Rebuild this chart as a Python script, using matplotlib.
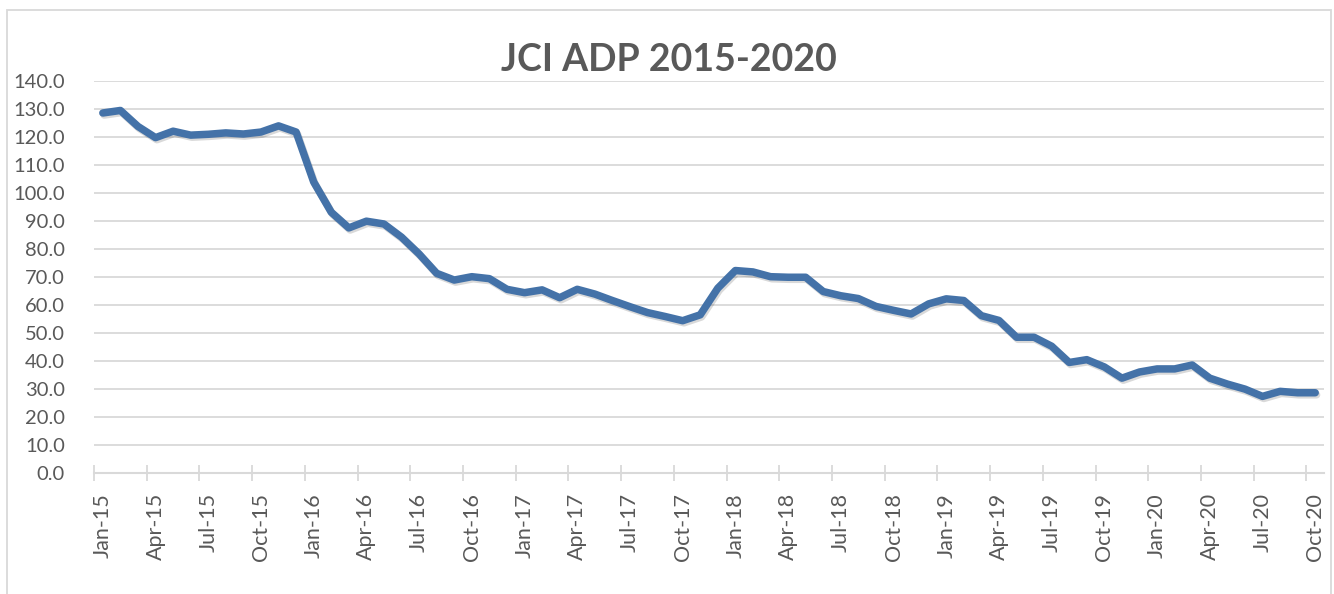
import matplotlib
matplotlib.use('Agg')
import matplotlib.pyplot as plt
import matplotlib.patheffects as pe
from matplotlib.patches import Rectangle

plt.rcParams['font.family'] = ['Lato', 'DejaVu Sans']

# JCI ADP, monthly Jan-15 .. Oct-20
adp = [128.6, 129.5, 123.8, 119.8, 122.1, 120.7, 121.0, 121.5, 121.1, 121.8, 124.0, 121.8,
       104.0, 93.2, 87.6, 90.0, 89.0, 84.3, 78.3, 71.4, 69.0, 70.2, 69.5, 65.7,
       64.5, 65.5, 62.7, 65.7, 64.0, 61.7, 59.5, 57.4, 56.0, 54.5, 56.6, 66.1,
       72.4, 71.9, 70.2, 70.0, 70.0, 64.9, 63.4, 62.4, 59.6, 58.2, 56.9, 60.5,
       62.3, 61.7, 56.3, 54.6, 48.6, 48.6, 45.4, 39.6, 40.6, 38.0, 34.0, 36.2,
       37.3, 37.3, 38.7, 34.0, 31.9, 30.1, 27.5, 29.3, 28.8, 28.8]

# one label every 3 months
tick_labels = ['Jan-15', 'Apr-15', 'Jul-15', 'Oct-15',
               'Jan-16', 'Apr-16', 'Jul-16', 'Oct-16',
               'Jan-17', 'Apr-17', 'Jul-17', 'Oct-17',
               'Jan-18', 'Apr-18', 'Jul-18', 'Oct-18',
               'Jan-19', 'Apr-19', 'Jul-19', 'Oct-19',
               'Jan-20', 'Apr-20', 'Jul-20', 'Oct-20']

grey_txt = '#595959'
grey_ln = '#d9d9d9'

fig = plt.figure(figsize=(13.34, 5.94), dpi=100)
ax = fig.add_axes([0.0705, 0.2029, 0.922, 0.6607])

x = list(range(len(adp)))
ax.plot(x, adp, color='#4472A8', lw=5.4, solid_joinstyle='round',
        solid_capstyle='round',
        path_effects=[pe.SimpleLineShadow(offset=(1, -1.5), shadow_color='k', alpha=0.15),
                      pe.Normal()])

ax.set_xlim(-0.5, len(adp) - 0.5)
ax.set_ylim(0, 140)

yt = list(range(0, 141, 10))
ax.set_yticks(yt)
ax.set_yticklabels([f'{v:.1f}' for v in yt])
ax.yaxis.grid(True, color=grey_ln, lw=1.3)
ax.set_axisbelow(True)

ax.set_xticks(x[::3])
ax.set_xticklabels(tick_labels, rotation=90)
ax.set_xticks([i - 0.5 for i in x[::3]], minor=True)

for s in ['top', 'right', 'left']:
    ax.spines[s].set_visible(False)
ax.spines['bottom'].set_color(grey_ln)
ax.spines['bottom'].set_linewidth(1.5)

ax.tick_params(axis='y', length=0, pad=21, labelsize=14.5, labelcolor=grey_txt)
ax.tick_params(axis='x', which='major', length=0, pad=14, labelsize=15.5, labelcolor=grey_txt)
ax.tick_params(axis='x', which='minor', direction='inout', length=11, width=1.3, color=grey_ln)

fig.text(0.5015, 1 - 70.7 / 594, 'JCI ADP 2015-2020', ha='center', va='baseline',
         fontsize=27, fontweight='bold', color=grey_txt)

# chart border
fig.add_artist(Rectangle((7 / 1334, -0.05), 1324 / 1334, 1.05 - 10 / 594,
                         transform=fig.transFigure, fill=False,
                         edgecolor=grey_ln, lw=1.3))

fig.savefig('out.png', dpi=100)
